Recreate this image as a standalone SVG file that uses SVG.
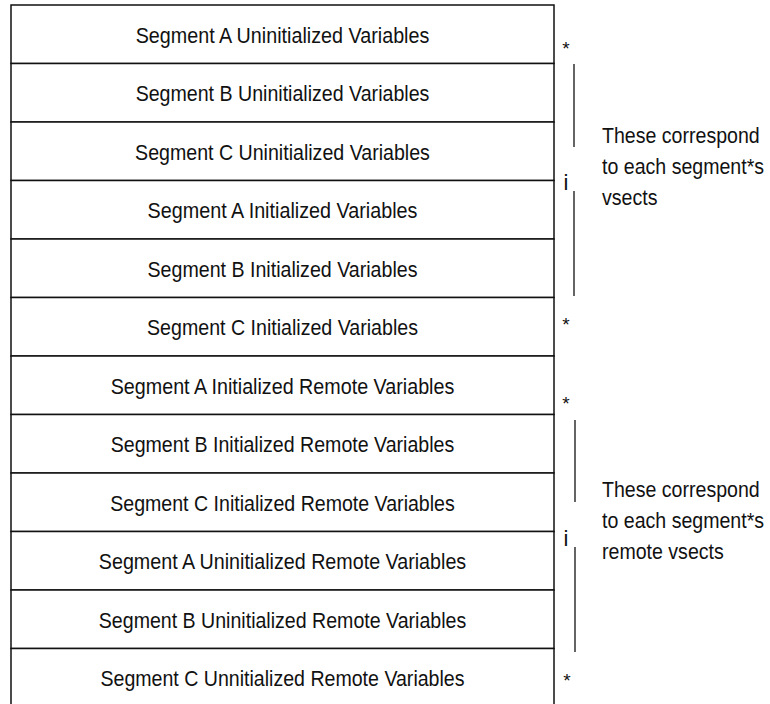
<svg xmlns="http://www.w3.org/2000/svg" width="770" height="704" viewBox="0 0 770 704">
<style>
  .row { fill: #ffffff; stroke: #111111; stroke-width: 1.5; }
  .lbl { font-family: "Liberation Sans", Arial, sans-serif; font-size: 22.5px; fill: #111111; text-anchor: middle; }
  .note { font-family: "Liberation Sans", Arial, sans-serif; font-size: 22px; fill: #111111; }
  .mark { font-family: "Liberation Sans", Arial, sans-serif; font-size: 19px; fill: #111111; text-anchor: middle; }
  .tall { font-size: 22px; }
  .brk { stroke: #111111; stroke-width: 1.3; fill: none; }
</style>
<rect x="0" y="0" width="770" height="704" fill="#ffffff"/>
<g id="row1"><rect class="row" x="11" y="5" width="543" height="58.5"/><text class="lbl" x="282.5" y="42.5" textLength="293.7" lengthAdjust="spacingAndGlyphs">Segment A Uninitialized Variables</text></g>
<g id="row2"><rect class="row" x="11" y="63.5" width="543" height="58.5"/><text class="lbl" x="282.5" y="101" textLength="293.7" lengthAdjust="spacingAndGlyphs">Segment B Uninitialized Variables</text></g>
<g id="row3"><rect class="row" x="11" y="122" width="543" height="58.5"/><text class="lbl" x="282.5" y="159.5" textLength="294.8" lengthAdjust="spacingAndGlyphs">Segment C Uninitialized Variables</text></g>
<g id="row4"><rect class="row" x="11" y="180.5" width="543" height="58.5"/><text class="lbl" x="282.5" y="218" textLength="269.9" lengthAdjust="spacingAndGlyphs">Segment A Initialized Variables</text></g>
<g id="row5"><rect class="row" x="11" y="239" width="543" height="58.5"/><text class="lbl" x="282.5" y="276.5" textLength="269.9" lengthAdjust="spacingAndGlyphs">Segment B Initialized Variables</text></g>
<g id="row6"><rect class="row" x="11" y="297.5" width="543" height="58.5"/><text class="lbl" x="282.5" y="335" textLength="270.9" lengthAdjust="spacingAndGlyphs">Segment C Initialized Variables</text></g>
<g id="row7"><rect class="row" x="11" y="356" width="543" height="58.5"/><text class="lbl" x="282.5" y="393.5" textLength="343.6" lengthAdjust="spacingAndGlyphs">Segment A Initialized Remote Variables</text></g>
<g id="row8"><rect class="row" x="11" y="414.5" width="543" height="58.5"/><text class="lbl" x="282.5" y="452" textLength="343.6" lengthAdjust="spacingAndGlyphs">Segment B Initialized Remote Variables</text></g>
<g id="row9"><rect class="row" x="11" y="473" width="543" height="58.5"/><text class="lbl" x="282.5" y="510.5" textLength="344.6" lengthAdjust="spacingAndGlyphs">Segment C Initialized Remote Variables</text></g>
<g id="row10"><rect class="row" x="11" y="531.5" width="543" height="58.5"/><text class="lbl" x="282.5" y="569" textLength="367.4" lengthAdjust="spacingAndGlyphs">Segment A Uninitialized Remote Variables</text></g>
<g id="row11"><rect class="row" x="11" y="590" width="543" height="58.5"/><text class="lbl" x="282.5" y="627.5" textLength="367.4" lengthAdjust="spacingAndGlyphs">Segment B Uninitialized Remote Variables</text></g>
<g id="row12"><rect class="row" x="11" y="648.5" width="543" height="58.5"/><text class="lbl" x="282.5" y="686" textLength="364.1" lengthAdjust="spacingAndGlyphs">Segment C Unnitialized Remote Variables</text></g>
<g id="connectors">
  <line class="brk" x1="574" y1="64" x2="574" y2="147"/>
  <line class="brk" x1="574" y1="191" x2="574" y2="296"/>
  <line class="brk" x1="575" y1="420" x2="575" y2="502"/>
  <line class="brk" x1="575" y1="547" x2="575" y2="652"/>
</g>
<g id="note1">
  <text class="mark" x="566" y="54.5">*</text>
  <text class="mark tall" x="566" y="190">i</text>
  <text class="mark" x="566" y="330.5">*</text>
  <text class="note" transform="translate(602,143) scale(0.89,1)">These correspond</text>
  <text class="note" transform="translate(602,174) scale(0.89,1)">to each segment*s</text>
  <text class="note" transform="translate(602,205) scale(0.89,1)">vsects</text>
</g>
<g id="note2">
  <text class="mark" x="566" y="409.5">*</text>
  <text class="mark tall" x="566" y="546">i</text>
  <text class="mark" x="567" y="687">*</text>
  <text class="note" transform="translate(602,497) scale(0.89,1)">These correspond</text>
  <text class="note" transform="translate(602,528) scale(0.89,1)">to each segment*s</text>
  <text class="note" transform="translate(602,559) scale(0.89,1)">remote vsects</text>
</g>
</svg>
